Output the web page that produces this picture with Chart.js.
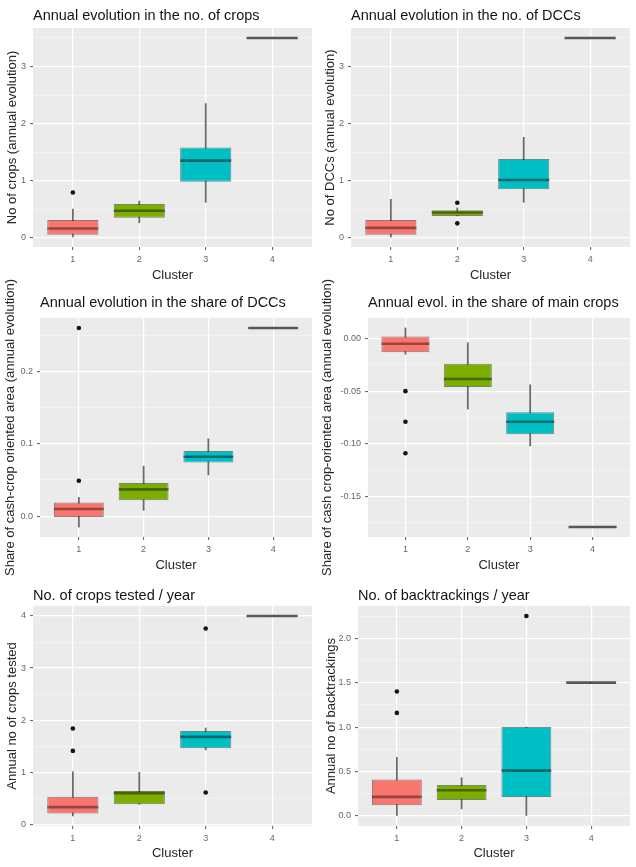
<!DOCTYPE html>
<html><head><meta charset="utf-8">
<script src="https://cdn.jsdelivr.net/npm/chart.js@4.4.0/dist/chart.umd.min.js"></script>
<style>
html,body{margin:0;padding:0;background:#fff;}
#wrap{position:relative;width:636px;height:867px;overflow:hidden;background:#fff;}
#wrap canvas{position:absolute;left:0;top:0;}
</style></head><body>
<div id="wrap">
<canvas id="c1" width="636" height="867"></canvas>
<canvas id="c2" width="636" height="867"></canvas>
<canvas id="c3" width="636" height="867"></canvas>
<canvas id="c4" width="636" height="867"></canvas>
<canvas id="c5" width="636" height="867"></canvas>
<canvas id="c6" width="636" height="867"></canvas>
</div>
<script>
// ---------- DATA ----------
const clusters = ['1', '2', '3', '4'];

// Panel 1: Annual evolution in the no. of crops
const crops_lo  = [0.01, 0.26, 0.62, 3.5];
const crops_q1  = [0.05, 0.35, 0.98, 3.5];
const crops_med = [0.16, 0.47, 1.35, 3.5];
const crops_q3  = [0.31, 0.59, 1.58, 3.5];
const crops_hi  = [0.50, 0.64, 2.35, 3.5];
const crops_out = [[0.79], [], [], []];
const crops_ticks = [0, 1, 2, 3];
const crops_tickLabels = ['0', '1', '2', '3'];

// Panel 2: Annual evolution in the no. of DCCs
const dcc_lo  = [0.01, 0.38, 0.62, 3.5];
const dcc_q1  = [0.05, 0.38, 0.85, 3.5];
const dcc_med = [0.17, 0.44, 1.01, 3.5];
const dcc_q3  = [0.31, 0.48, 1.38, 3.5];
const dcc_hi  = [0.67, 0.52, 1.76, 3.5];
const dcc_out = [[], [0.61, 0.25], [], []];
const dcc_ticks = [0, 1, 2, 3];
const dcc_tickLabels = ['0', '1', '2', '3'];

// Panel 3: Annual evolution in the share of DCCs
const shareDcc_lo  = [-0.015, 0.008, 0.057, 0.26];
const shareDcc_q1  = [-0.001, 0.022, 0.074, 0.26];
const shareDcc_med = [0.010, 0.037, 0.082, 0.26];
const shareDcc_q3  = [0.019, 0.046, 0.090, 0.26];
const shareDcc_hi  = [0.026, 0.069, 0.107, 0.26];
const shareDcc_out = [[0.049, 0.26], [], [], []];
const shareDcc_ticks = [0, 0.1, 0.2];
const shareDcc_tickLabels = ['0.0', '0.1', '0.2'];

// Panel 4: Annual evol. in the share of main crops
const shareMain_lo  = [-0.015, -0.067, -0.102, -0.179];
const shareMain_q1  = [-0.013, -0.046, -0.091, -0.179];
const shareMain_med = [-0.005, -0.0385, -0.079, -0.179];
const shareMain_q3  = [0.002, -0.024, -0.070, -0.179];
const shareMain_hi  = [0.010, -0.004, -0.044, -0.179];
const shareMain_out = [[-0.050, -0.079, -0.109], [], [], []];
const shareMain_ticks = [-0.15, -0.10, -0.05, 0];
const shareMain_tickLabels = ['-0.15', '-0.10', '-0.05', '0.00'];

// Panel 5: No. of crops tested / year
const tested_lo  = [0.16, 0.385, 1.43, 4.0];
const tested_q1  = [0.21, 0.385, 1.46, 4.0];
const tested_med = [0.33, 0.60, 1.68, 4.0];
const tested_q3  = [0.53, 0.64, 1.79, 4.0];
const tested_hi  = [1.01, 1.00, 1.85, 4.0];
const tested_out = [[1.41, 1.84], [], [3.76, 0.61], []];
const tested_ticks = [0, 1, 2, 3, 4];
const tested_tickLabels = ['0', '1', '2', '3', '4'];

// Panel 6: No. of backtrackings / year
const back_lo  = [0.0, 0.08, 0.0, 1.5];
const back_q1  = [0.12, 0.18, 0.215, 1.5];
const back_med = [0.215, 0.29, 0.51, 1.5];
const back_q3  = [0.41, 0.35, 1.0, 1.5];
const back_hi  = [0.66, 0.43, 1.0, 1.5];
const back_out = [[1.16, 1.40], [], [2.25], []];
const back_ticks = [0, 0.5, 1, 1.5, 2];
const back_tickLabels = ['0.0', '0.5', '1.0', '1.5', '2.0'];

// ---------- PANELS ----------
const panels = [
  {id:'c1', title:'Annual evolution in the no. of crops', yLabel:'No of crops (annual evolution)',
   lo:crops_lo, q1:crops_q1, med:crops_med, q3:crops_q3, hi:crops_hi, out:crops_out, ticks:crops_ticks, tickLabels:crops_tickLabels},
  {id:'c2', title:'Annual evolution in the no. of DCCs', yLabel:'No of DCCs (annual evolution)',
   lo:dcc_lo, q1:dcc_q1, med:dcc_med, q3:dcc_q3, hi:dcc_hi, out:dcc_out, ticks:dcc_ticks, tickLabels:dcc_tickLabels},
  {id:'c3', title:'Annual evolution in the share of DCCs', yLabel:'Share of cash-crop oriented area (annual evolution)',
   lo:shareDcc_lo, q1:shareDcc_q1, med:shareDcc_med, q3:shareDcc_q3, hi:shareDcc_hi, out:shareDcc_out, ticks:shareDcc_ticks, tickLabels:shareDcc_tickLabels},
  {id:'c4', title:'Annual evol. in the share of main crops', yLabel:'Share of cash crop-oriented area (annual evolution)',
   lo:shareMain_lo, q1:shareMain_q1, med:shareMain_med, q3:shareMain_q3, hi:shareMain_hi, out:shareMain_out, ticks:shareMain_ticks, tickLabels:shareMain_tickLabels},
  {id:'c5', title:'No. of crops tested / year', yLabel:'Annual no of crops tested',
   lo:tested_lo, q1:tested_q1, med:tested_med, q3:tested_q3, hi:tested_hi, out:tested_out, ticks:tested_ticks, tickLabels:tested_tickLabels},
  {id:'c6', title:'No. of backtrackings / year', yLabel:'Annual no of backtrackings',
   lo:back_lo, q1:back_q1, med:back_med, q3:back_q3, hi:back_hi, out:back_out, ticks:back_ticks, tickLabels:back_tickLabels}
];

// ---------- LAYOUT (pixels) ----------
const layouts = [
  {L:33,  R:312, T:28,  B:247, titleY:15.5,  yTitleX:12.5,  xTitleY:275.5},
  {L:351, R:630, T:28,  B:247, titleY:15.5,  yTitleX:330.5, xTitleY:275.5},
  {L:40,  R:312, T:318, B:537, titleY:303,   yTitleX:10,    xTitleY:565},
  {L:368, R:630, T:318, B:537, titleY:303,   yTitleX:327.5, xTitleY:565},
  {L:33,  R:312, T:606, B:826, titleY:595.5, yTitleX:12.5,  xTitleY:853.5},
  {L:358, R:630, T:606, B:826, titleY:595.5, yTitleX:331,   xTitleY:853.5}
];

const FAMILY = '"Liberation Sans", Arial, Helvetica, sans-serif';
const TITLE_FS = 14.5, AX_FS = 13, TICK_FS = 9;
const BOX_FRAC = 0.77;
const fills = ['#F8766D', '#7CAE00', '#00BFC4', 'rgba(0,0,0,0)'];
const edges = ['rgba(60,20,20,0.55)', 'rgba(30,50,0,0.55)', 'rgba(0,60,60,0.55)', 'rgba(60,60,60,0.8)'];
const medCols = ['rgba(0,0,0,0.4)', 'rgba(0,0,0,0.42)', 'rgba(0,0,0,0.45)', 'rgba(45,45,45,0.78)'];

const bgPlugin = {
  id: 'panelBg',
  beforeDraw(chart) {
    const {ctx, chartArea: a} = chart;
    ctx.save();
    ctx.fillStyle = '#EBEBEB';
    ctx.fillRect(a.left, a.top, a.right - a.left, a.bottom - a.top);
    ctx.restore();
  }
};

function halfBox(chart) {
  const s = chart.scales.x;
  if (!s) return 25;
  return Math.abs(s.getPixelForValue(1) - s.getPixelForValue(0)) * BOX_FRAC / 2;
}

function build(p, lay) {
  const tLH = TITLE_FS * 1.2, aLH = AX_FS * 1.2;
  const padLeft = lay.yTitleX - aLH / 2;
  const padTop = lay.titleY - tLH / 2;
  const padRight = 636 - lay.R;
  const xBottom = lay.xTitleY + aLH / 2;
  const padBottom = 867 - xBottom;
  const yW = lay.L - padLeft;
  const xH = xBottom - lay.B;
  const titleGap = lay.T - (padTop + tLH);

  const all = [].concat(p.lo, p.hi, ...p.out);
  const dMin = Math.min(...all), dMax = Math.max(...all);
  const span = dMax - dMin;
  const yMin = dMin - 0.05 * span, yMax = dMax + 0.05 * span;

  const step = p.ticks[1] - p.ticks[0];
  const yAll = p.ticks.map(v => ({value: v, minor: false}));
  const mids = [p.ticks[0] - step / 2];
  for (let i = 0; i < p.ticks.length; i++) mids.push(p.ticks[i] + step / 2);
  mids.forEach(v => { if (v >= yMin && v <= yMax) yAll.push({value: v, minor: true}); });
  yAll.sort((a, b) => a.value - b.value);

  const outPts = [];
  p.out.forEach((arr, i) => arr.forEach(v => outPts.push({x: i + 1, y: v})));

  const isMinor = ctx => !!(ctx.tick && ctx.tick.minor);

  new Chart(document.getElementById(p.id), {
    type: 'bar',
    data: {
      datasets: [
        {type: 'bar', label: 'whisker', order: 4, grouped: false,
         data: clusters.map((c, i) => ({x: i + 1, y: [p.lo[i], p.hi[i]]})),
         backgroundColor: '#6b6b6b', borderWidth: 0, barThickness: 1.1},
        {type: 'bar', label: 'box', order: 3, grouped: false,
         data: clusters.map((c, i) => ({x: i + 1, y: [p.q1[i], p.q3[i]]})),
         backgroundColor: fills, borderColor: edges, borderWidth: 1, borderSkipped: false,
         categoryPercentage: 1, barPercentage: BOX_FRAC},
        {type: 'line', label: 'median', order: 2, showLine: false,
         data: clusters.map((c, i) => ({x: i + 1, y: p.med[i]})),
         pointStyle: 'line', pointRadius: ctx => halfBox(ctx.chart), pointHoverRadius: ctx => halfBox(ctx.chart),
         pointBorderWidth: 2.6, pointHoverBorderWidth: 2.6, pointBorderColor: medCols, pointBackgroundColor: medCols},
        {type: 'line', label: 'outliers', order: 1, showLine: false,
         data: outPts, pointStyle: 'circle', pointRadius: 2.3, pointBorderWidth: 0,
         pointBackgroundColor: '#151515', pointBorderColor: '#151515'}
      ]
    },
    options: {
      responsive: false,
      animation: false,
      events: [],
      layout: {padding: {left: padLeft, top: padTop, right: padRight, bottom: padBottom}},
      plugins: {
        legend: {display: false},
        tooltip: {enabled: false},
        title: {display: true, text: p.title, align: 'start', fullSize: false,
                color: '#141414', font: {family: FAMILY, size: TITLE_FS, weight: 'normal'},
                padding: {top: 0, bottom: titleGap}}
      },
      scales: {
        x: {
          type: 'linear', min: 0.4, max: 4.6, offset: false,
          afterBuildTicks: s => { s.ticks = clusters.map((c, i) => ({value: i + 1})); },
          afterFit: s => { s.height = xH; },
          ticks: {callback: v => clusters[Math.round(v) - 1] || '', autoSkip: false, maxRotation: 0,
                  font: {family: FAMILY, size: TICK_FS}, color: '#666666', padding: 4},
          grid: {color: '#ffffff', lineWidth: 1.2, offset: false, drawTicks: true, tickLength: 3,
                 tickColor: '#5a5a5a', tickWidth: 1},
          border: {display: false},
          title: {display: true, text: 'Cluster', color: '#262626',
                  font: {family: FAMILY, size: AX_FS}, padding: {top: 0, bottom: 0}}
        },
        y: {
          type: 'linear', min: yMin, max: yMax,
          afterBuildTicks: s => { s.ticks = yAll.map(t => ({value: t.value, minor: t.minor})); },
          afterFit: s => { s.width = yW; },
          ticks: {
            callback: v => { const i = p.ticks.findIndex(t => Math.abs(t - v) < 1e-9); return i < 0 ? '' : p.tickLabels[i]; },
            autoSkip: false, font: {family: FAMILY, size: TICK_FS}, color: '#666666', padding: 4
          },
          grid: {
            color: ctx => isMinor(ctx) ? 'rgba(255,255,255,0.6)' : '#ffffff',
            lineWidth: ctx => isMinor(ctx) ? 0.6 : 1.2,
            drawTicks: true, tickLength: 3, tickWidth: 1,
            tickColor: ctx => isMinor(ctx) ? 'rgba(0,0,0,0)' : '#5a5a5a'
          },
          border: {display: false},
          title: {display: true, text: p.yLabel, color: '#262626',
                  font: {family: FAMILY, size: AX_FS}, padding: {top: 0, bottom: 0}}
        }
      }
    },
    plugins: [bgPlugin]
  });
}

panels.forEach((p, i) => build(p, layouts[i]));
</script>
</body></html>
